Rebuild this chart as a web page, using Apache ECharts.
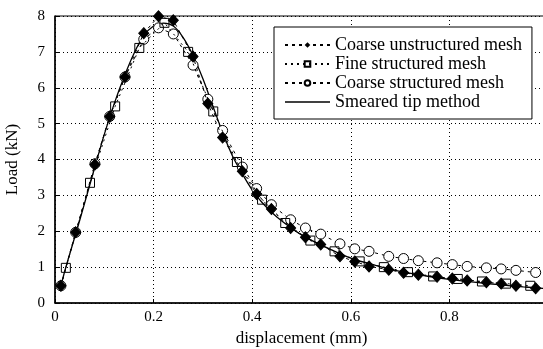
<!DOCTYPE html>
<html>
<head>
<meta charset="utf-8">
<script src="https://cdn.jsdelivr.net/npm/echarts@6/dist/echarts.min.js"></script>
<style>html,body{margin:0;padding:0;background:#fff;}#c{width:543px;height:349px;}</style>
</head>
<body>
<div id="c"></div>
<script>
// Coarse meshes share displacement stations
var xCoarse = [0.012, 0.042, 0.081, 0.111, 0.142, 0.180, 0.210, 0.240, 0.280, 0.310, 0.340, 0.380, 0.409, 0.439, 0.478, 0.508, 0.539, 0.578, 0.608, 0.637, 0.677, 0.707, 0.737, 0.775, 0.806, 0.836, 0.875, 0.905, 0.935, 0.975];
var yCoarseUnstructured = [0.48, 1.97, 3.86, 5.20, 6.30, 7.52, 7.99, 7.88, 6.87, 5.56, 4.61, 3.67, 3.04, 2.62, 2.09, 1.83, 1.63, 1.30, 1.16, 1.02, 0.93, 0.84, 0.79, 0.73, 0.68, 0.63, 0.58, 0.54, 0.48, 0.41];
var yCoarseStructured = [0.48, 1.97, 3.88, 5.20, 6.30, 7.35, 7.67, 7.50, 6.63, 5.68, 4.81, 3.79, 3.19, 2.74, 2.32, 2.09, 1.92, 1.65, 1.51, 1.44, 1.30, 1.24, 1.18, 1.12, 1.07, 1.02, 0.98, 0.95, 0.91, 0.85];
var xFine = [0.022, 0.071, 0.122, 0.171, 0.222, 0.270, 0.321, 0.369, 0.420, 0.467, 0.518, 0.567, 0.618, 0.667, 0.716, 0.767, 0.817, 0.866, 0.915, 0.964];
var yFine = [0.98, 3.35, 5.48, 7.11, 7.81, 7.00, 5.34, 3.93, 2.88, 2.23, 1.74, 1.44, 1.16, 1.00, 0.86, 0.74, 0.67, 0.60, 0.54, 0.48];
var xSmeared = [0.010, 0.020, 0.050, 0.080, 0.100, 0.120, 0.140, 0.160, 0.180, 0.200, 0.220, 0.240, 0.260, 0.280, 0.300, 0.320, 0.340, 0.360, 0.380, 0.400, 0.420, 0.450, 0.500, 0.550, 0.600, 0.650, 0.700, 0.750, 0.800, 0.850, 0.900, 0.950, 0.990];
var ySmeared = [0.35, 0.90, 2.30, 3.75, 4.70, 5.55, 6.30, 6.95, 7.45, 7.72, 7.80, 7.72, 7.40, 6.90, 6.25, 5.50, 4.75, 4.10, 3.60, 3.15, 2.80, 2.40, 1.90, 1.55, 1.25, 1.05, 0.88, 0.76, 0.66, 0.58, 0.51, 0.45, 0.41];
var seriesNames = ['Coarse unstructured mesh', 'Fine structured mesh', 'Coarse structured mesh', 'Smeared tip method'];
var xTitle = 'displacement (mm)';
var yTitle = 'Load (kN)';

function pairs(xs, ys) { return xs.map(function (x, i) { return [x, ys[i]]; }); }

var serif = "'Liberation Serif', 'Times New Roman', serif";
var chart = echarts.init(document.getElementById('c'), null, {renderer: 'canvas'});
chart.setOption({
  animation: false,
  backgroundColor: '#fff',
  textStyle: {fontFamily: serif, color: '#000'},
  grid: {left: 55, right: -5, top: 16, bottom: 46, show: true, borderColor: '#000', borderWidth: 1, containLabel: false, outerBoundsMode: 'none'},
  legend: {
    orient: 'vertical', left: 274, top: 27,
    backgroundColor: '#fff', borderColor: '#000', borderWidth: 1,
    padding: [9, 10, 8, 10], itemGap: 1, itemWidth: 45, itemHeight: 7,
    textStyle: {fontFamily: serif, fontSize: 18, color: '#000', lineHeight: 18},
    data: [
      {name: seriesNames[0]},
      {name: seriesNames[1]},
      {name: seriesNames[2]},
      {name: seriesNames[3], icon: 'path://M0,0L45,0L45,1.6L0,1.6Z', itemStyle: {color: '#000'}}
    ]
  },
  xAxis: {
    type: 'value', min: 0, max: 1, interval: 0.2,
    name: xTitle, nameLocation: 'middle', nameGap: 26,
    nameTextStyle: {fontFamily: serif, fontSize: 17, color: '#000'},
    axisLine: {show: true, lineStyle: {color: '#000', width: 1.5}},
    axisTick: {show: true, inside: true, length: 4, lineStyle: {color: '#000'}},
    axisLabel: {fontFamily: serif, fontSize: 15, color: '#000', margin: 7, showMaxLabel: false},
    splitLine: {show: true, lineStyle: {color: '#000', type: [1, 3], width: 1}}
  },
  yAxis: {
    type: 'value', min: 0, max: 8, interval: 1,
    name: yTitle, nameLocation: 'middle', nameGap: 34, nameRotate: 90,
    nameTextStyle: {fontFamily: serif, fontSize: 17, color: '#000'},
    axisLine: {show: true, lineStyle: {color: '#000', width: 1.5}},
    axisTick: {show: true, inside: true, length: 4, lineStyle: {color: '#000'}},
    axisLabel: {fontFamily: serif, fontSize: 15, color: '#000', margin: 10},
    splitLine: {show: true, lineStyle: {color: '#000', type: [1, 3], width: 1}}
  },
  series: [
    {
      name: seriesNames[3], type: 'line', data: pairs(xSmeared, ySmeared),
      smooth: 0.3, showSymbol: false, symbol: 'none',
      lineStyle: {color: '#000', width: 1.3}, itemStyle: {color: '#000'}, z: 2
    },
    {
      name: seriesNames[2], type: 'line', data: pairs(xCoarse, yCoarseStructured),
      symbol: 'circle', symbolSize: 10,
      lineStyle: {color: '#000', width: 1, type: [3, 4]},
      itemStyle: {color: '#fff', borderColor: '#000', borderWidth: 1}, z: 3
    },
    {
      name: seriesNames[1], type: 'line', data: pairs(xFine, yFine),
      symbol: 'rect', symbolSize: 9,
      lineStyle: {color: '#000', width: 1, type: [2, 4]},
      itemStyle: {color: 'rgba(255,255,255,0)', borderColor: '#000', borderWidth: 1}, z: 4
    },
    {
      name: seriesNames[0], type: 'line', data: pairs(xCoarse, yCoarseUnstructured),
      symbol: 'diamond', symbolSize: [10, 11],
      lineStyle: {color: '#000', width: 1, type: [3, 4]},
      itemStyle: {color: '#000', borderColor: '#000'}, z: 5
    }
  ]
});
</script>
</body>
</html>
